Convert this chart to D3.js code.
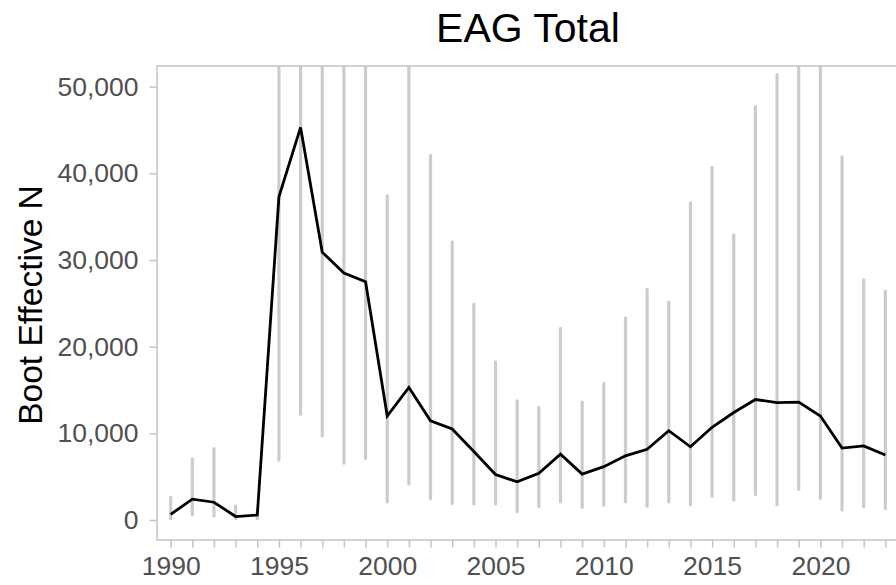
<!DOCTYPE html>
<html>
<head>
<meta charset="utf-8">
<script src="https://cdn.jsdelivr.net/npm/d3@7"></script>
<style>
  html, body { margin: 0; padding: 0; background: #ffffff; }
  svg { display: block; font-family: "Liberation Sans", Arial, sans-serif; }
</style>
</head>
<body>
<svg id="chart" width="896" height="585"></svg>
<script>
const years = [1990,1991,1992,1993,1994,1995,1996,1997,1998,1999,2000,2001,2002,2003,2004,2005,2006,2007,2008,2009,2010,2011,2012,2013,2014,2015,2016,2017,2018,2019,2020,2021,2022,2023];
const effectiveN = [650,2400,2050,400,580,37300,45300,30900,28500,27500,12000,15300,11450,10500,7900,5250,4400,5400,7600,5300,6150,7400,8150,10300,8450,10700,12400,13900,13550,13600,12000,8300,8550,7500];
const lowerCI = [150,580,460,150,150,6900,12200,9700,6550,7100,2100,4150,2450,1900,1850,1850,950,1550,2100,1450,1700,2100,1600,2100,1750,2750,2300,2950,1750,3550,2500,1150,1550,1300];
const upperCI = [2600,7050,8250,1600,1000,70000,70000,70000,70000,70000,37400,70000,42050,32100,24900,18250,13750,13000,22100,13600,15750,23300,26600,25150,36600,40700,32900,47700,51400,70000,70000,41900,27700,26400];
const yTicks = [0,10000,20000,30000,40000,50000];
const xLabelYears = [1990,1995,2000,2005,2010,2015,2020];
const titleText = "EAG Total";
const yTitle = "Boot Effective N";

const svg = d3.select("#chart");
const panel = {left: 157, top: 66, right: 899, bottom: 540};

const x = d3.scaleLinear().domain([1989.37, 2023.63]).range([panel.left, panel.right]);
const y = d3.scaleLinear().domain([-2308, 52385]).range([panel.bottom, panel.top]);

svg.append("defs").append("clipPath").attr("id", "clip")
  .append("rect").attr("x", panel.left).attr("y", panel.top)
  .attr("width", panel.right - panel.left).attr("height", panel.bottom - panel.top);

const plot = svg.append("g").attr("clip-path", "url(#clip)");

// error bars
plot.selectAll("line.ci").data(years).join("line")
  .attr("class", "ci")
  .attr("x1", d => x(d)).attr("x2", d => x(d))
  .attr("y1", (d, i) => y(lowerCI[i])).attr("y2", (d, i) => y(upperCI[i]))
  .attr("stroke", "#cccccc").attr("stroke-width", 3.2).attr("stroke-linecap", "round");

// line
const line = d3.line().x((d, i) => x(years[i])).y(d => y(d));
plot.append("path").datum(effectiveN)
  .attr("d", line).attr("fill", "none")
  .attr("stroke", "#000000").attr("stroke-width", 2.8).attr("stroke-linejoin", "miter");

// panel border
svg.append("rect").attr("x", panel.left).attr("y", panel.top)
  .attr("width", panel.right - panel.left).attr("height", panel.bottom - panel.top)
  .attr("fill", "none").attr("stroke", "#c4c4c4").attr("stroke-width", 1.5);

// x axis
const xAxis = d3.axisBottom(x).tickValues(years).tickSize(7.5).tickPadding(9)
  .tickFormat(d => xLabelYears.includes(d) ? String(d) : "");
const gx = svg.append("g").attr("transform", `translate(0,${panel.bottom})`).call(xAxis);
gx.select(".domain").remove();
gx.selectAll(".tick line").attr("stroke", "#c4c4c4").attr("stroke-width", 1.5);
gx.selectAll(".tick text").attr("fill", "#505050").style("font-size", "26.5px")
  .style("font-family", "'Liberation Sans', Arial, sans-serif");

// y axis
const yAxis = d3.axisLeft(y).tickValues(yTicks).tickSize(7.5).tickPadding(11)
  .tickFormat(d3.format(","));
const gy = svg.append("g").attr("transform", `translate(${panel.left},0)`).call(yAxis);
gy.select(".domain").remove();
gy.selectAll(".tick line").attr("stroke", "#c4c4c4").attr("stroke-width", 1.5);
gy.selectAll(".tick text").attr("fill", "#505050").style("font-size", "26.5px")
  .style("font-family", "'Liberation Sans', Arial, sans-serif");

// title
svg.append("text").attr("x", (panel.left + panel.right) / 2).attr("y", 42)
  .attr("text-anchor", "middle").attr("fill", "#000")
  .style("font-size", "41px").text(titleText);

// y title
svg.append("text")
  .attr("transform", `translate(42,${(panel.top + panel.bottom) / 2 + 2}) rotate(-90)`)
  .attr("text-anchor", "middle").attr("fill", "#000")
  .style("font-size", "33.5px").text(yTitle);
</script>
</body>
</html>
